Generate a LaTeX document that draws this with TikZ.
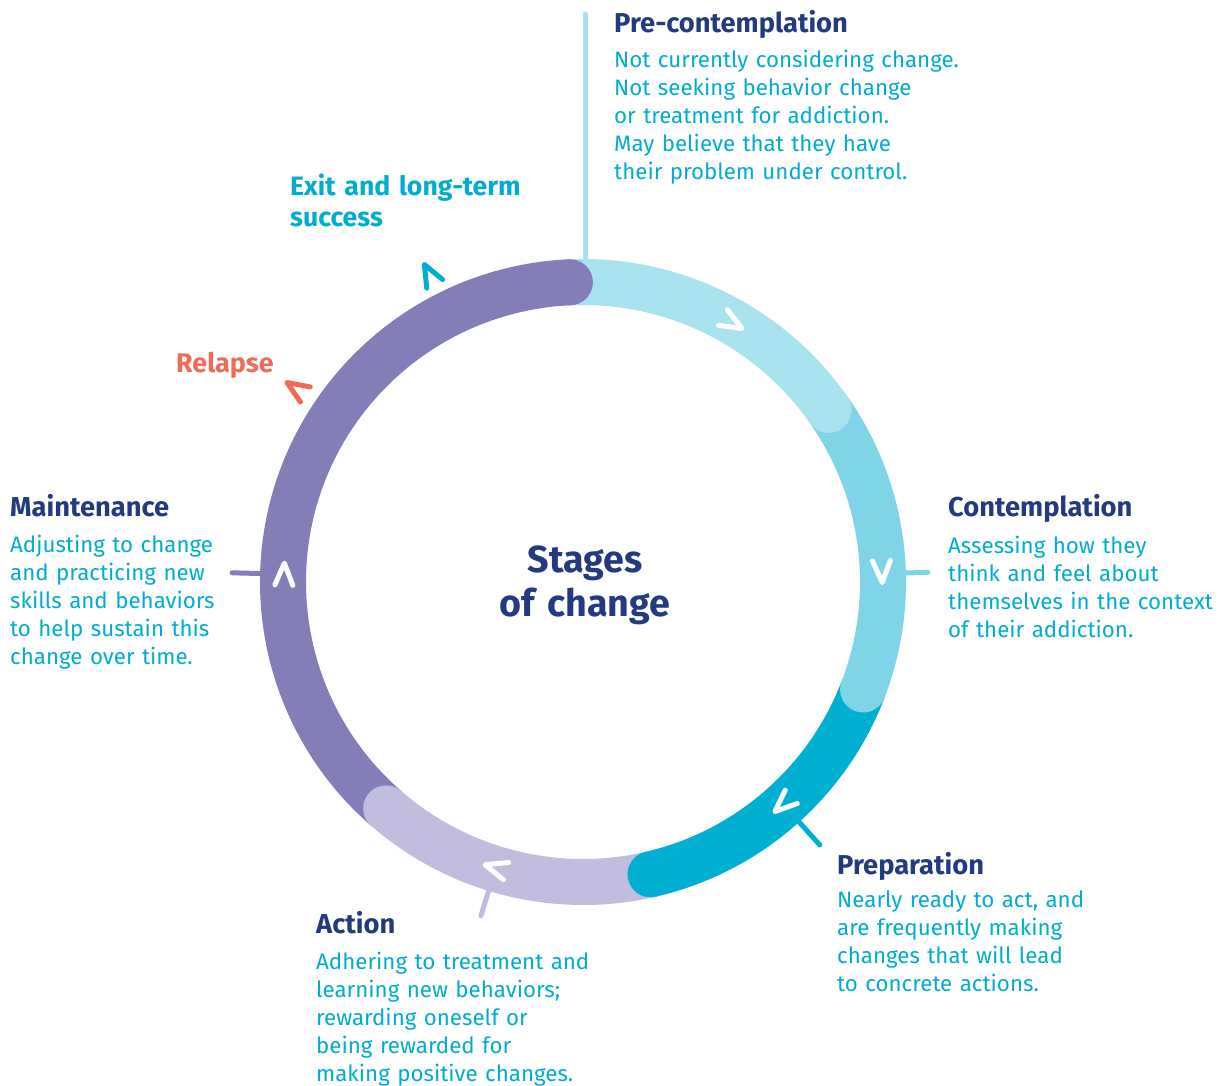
\documentclass[tikz,border=0pt]{standalone}
\usepackage{fontspec}
\setmainfont{Fira Sans}
\usetikzlibrary{positioning}
\definecolor{navy}{RGB}{35,57,128}
\definecolor{sky}{RGB}{0,172,208}
\definecolor{coral}{RGB}{239,107,87}
\definecolor{precol}{RGB}{168,226,238}
\definecolor{concol}{RGB}{128,212,232}
\definecolor{prepcol}{RGB}{0,176,210}
\definecolor{actcol}{RGB}{192,189,223}
\definecolor{maincol}{RGB}{131,126,183}

\begin{document}
\begin{tikzpicture}[x=1bp,y=1bp]
\tikzset{ring/.style={line width=46bp},
  tick/.style={line width=5bp, line cap=round, draw=#1},
  chev/.pic={\draw[line width=5bp, line cap=round, line join=round] (-11,9) -- (11,0) -- (-11,-9);},
  head/.style={font=\fontsize{27.4}{32}\selectfont\bfseries, text=navy, inner sep=0pt, anchor=base west},
  body/.style={font=\fontsize{22.4}{28}\selectfont, text=sky, inner sep=0pt, anchor=base west,
    align=left, text width=#1},
  body/.default=420bp
}
\useasboundingbox (0,0) rectangle (1219,1086);

\begin{scope}[shift={(583,504)}]
\foreach \a/\b/\col in {92.5/35/precol, 35/-21/concol, -21/-77/prepcol, -77/-131/actcol, 229/92.5/maincol}
  \draw[ring, \col] (\a:300) arc[start angle=\a, end angle=\b, radius=300];
\foreach \b/\col in {35/precol, -21/concol, -77/prepcol, -131/actcol, 92.5/maincol}
  \fill[\col] (\b:300) circle[radius=23];

\foreach \p/\d in {60/-30, 2/-88, -48/-138, -107/163, 178.5/88.5}
  \pic[color=white, rotate=\d] at (\p:299) {chev};
\pic[color=sky, rotate=118] at (116.5:344) {chev};
\pic[color=coral, rotate=147] at (146:346) {chev};

\coordinate (pre a) at (2,322);
\coordinate (pre b) at (2,568);
\coordinate (con a) at (1.6:321);
\coordinate (con b) at (1.6:345);
\coordinate (prep a) at (-48:322);
\coordinate (prep b) at (-48:354);
\coordinate (act a) at (-107:322);
\coordinate (act b) at (-107:349);
\coordinate (main a) at (178.5:322);
\coordinate (main b) at (178.5:351);
\draw[tick=precol] (pre a) -- (pre b);
\draw[tick=concol] (con a) -- (con b);
\draw[tick=prepcol] (prep a) -- (prep b);
\draw[tick=actcol] (act a) -- (act b);
\draw[tick=maincol] (main a) -- (main b);
\end{scope}

\node[font=\fontsize{37.8}{44}\selectfont\bfseries, text=navy, align=center, text width=300bp, inner sep=0pt, anchor=base]
  (title) at (585,513) {Stages\\of change};

\node[head] (prehead) at (614,1053) {Pre-contemplation};
\node[body] (pretext) at (614,1018) {Not currently considering change.\\Not seeking behavior change\\or treatment for addiction.\\May believe that they have\\their problem under control.};

\node[head] (conhead) at (948,569) {Contemplation};
\node[body=270bp] (context) at (948,532) {Assessing how they\\think and feel about\\themselves in the context\\of their addiction.};

\node[head] (prephead) at (837,211) {Preparation};
\node[body] (preptext) at (837,178) {Nearly ready to act, and\\are frequently making\\changes that will lead\\to concrete actions.};

\node[head] (acthead) at (316,152) {Action};
\node[body] (acttext) at (316,116) {Adhering to treatment and\\learning new behaviors;\\rewarding oneself or\\being rewarded for\\making positive changes.};

\node[head] (mainhead) at (10,569) {Maintenance};
\node[body] (maintext) at (10,533) {Adjusting to change\\and practicing new\\skills and behaviors\\to help sustain this\\change over time.};

\node[head, text=sky, font=\fontsize{26.7}{31}\selectfont\bfseries, align=left, text width=420bp] (exit) at (290,890) {Exit and long-term\\success};
\node[head, text=coral, font=\fontsize{27}{31}\selectfont\bfseries] (relapse) at (176,713) {Relapse};
\end{tikzpicture}
\end{document}
